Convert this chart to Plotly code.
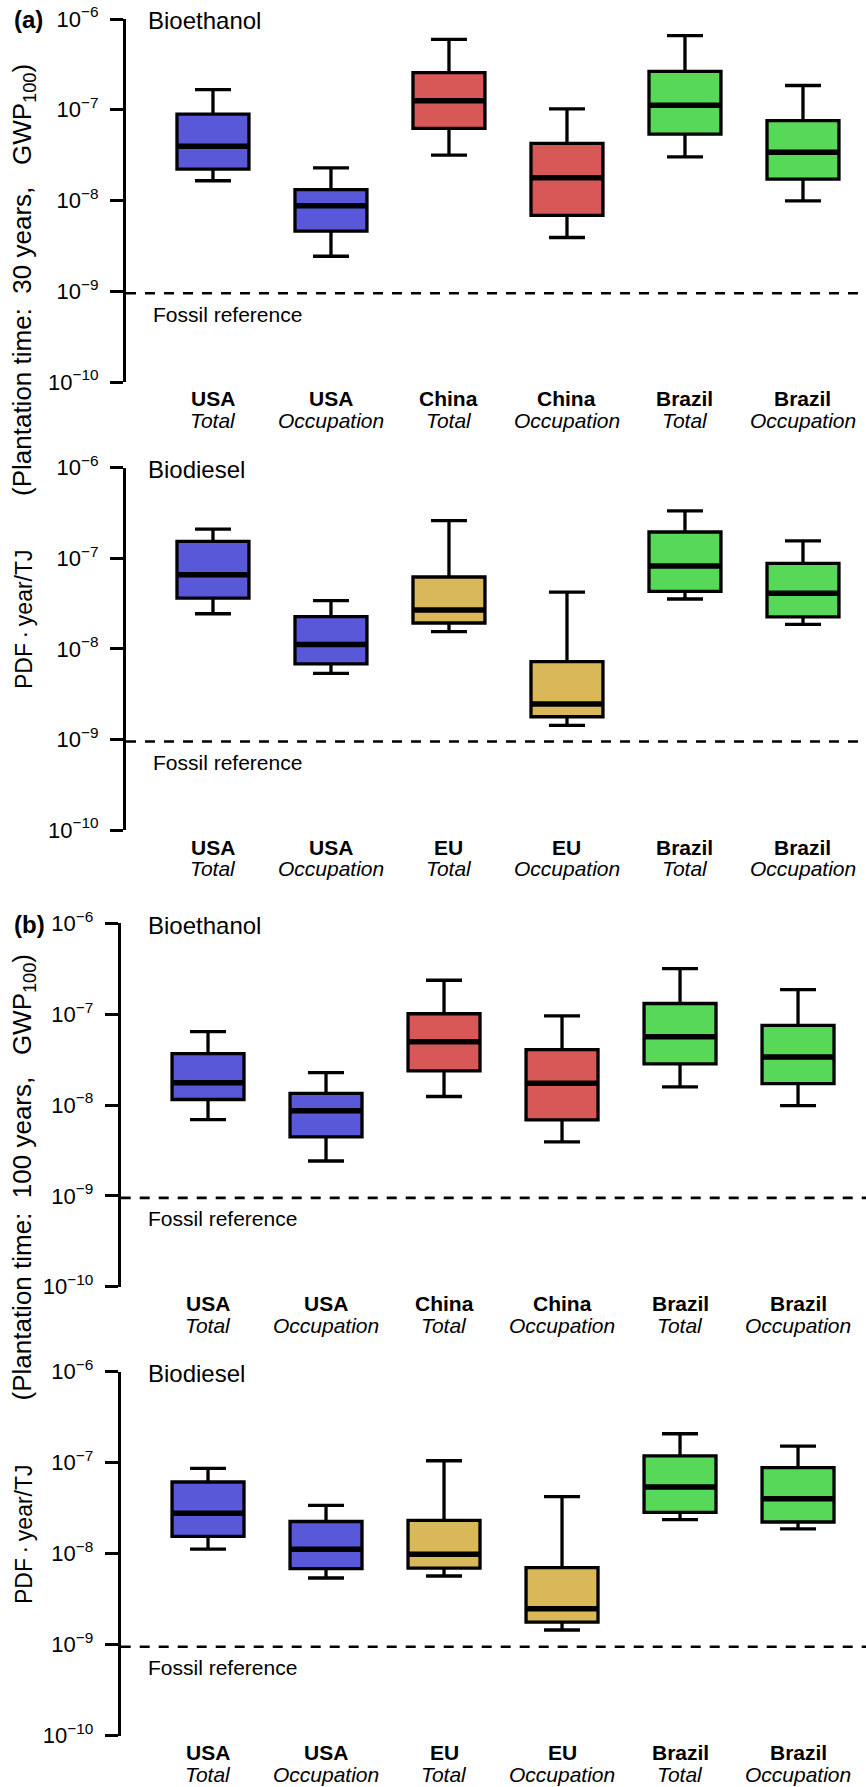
import numpy as np
import plotly.graph_objects as go

# ---------------- data ----------------
eth_countries = ["USA", "USA", "China", "China", "Brazil", "Brazil"]
dsl_countries = ["USA", "USA", "EU", "EU", "Brazil", "Brazil"]
kinds = ["Total", "Occupation", "Total", "Occupation", "Total", "Occupation"]
tick_vals = [1e-10, 1e-9, 1e-8, 1e-7, 1e-6]
tick_text = ["10<sup>\u221210</sup>", "10<sup>\u22129</sup>", "10<sup>\u22128</sup>",
             "10<sup>\u22127</sup>", "10<sup>\u22126</sup>"]
fossil_ref = 9.5e-10

# (a) 30 years - Bioethanol
a_eth_low = [1.65e-8, 2.43e-9, 3.16e-8, 3.91e-9, 3.03e-8, 9.9e-9]
a_eth_q1 = [2.22e-8, 4.59e-9, 6.22e-8, 6.84e-9, 5.39e-8, 1.72e-8]
a_eth_med = [3.97e-8, 8.73e-9, 1.26e-7, 1.78e-8, 1.12e-7, 3.41e-8]
a_eth_q3 = [8.96e-8, 1.32e-8, 2.56e-7, 4.25e-8, 2.65e-7, 7.57e-8]
a_eth_up = [1.67e-7, 2.29e-8, 5.97e-7, 1.02e-7, 6.55e-7, 1.85e-7]

# (a) 30 years - Biodiesel
a_dsl_low = [2.44e-8, 5.37e-9, 1.55e-8, 1.43e-9, 3.55e-8, 1.86e-8]
a_dsl_q1 = [3.64e-8, 6.81e-9, 1.93e-8, 1.78e-9, 4.31e-8, 2.25e-8]
a_dsl_med = [6.59e-8, 1.12e-8, 2.69e-8, 2.46e-9, 8.21e-8, 4.10e-8]
a_dsl_q3 = [1.54e-7, 2.27e-8, 6.21e-8, 7.21e-9, 1.95e-7, 8.79e-8]
a_dsl_up = [2.10e-7, 3.40e-8, 2.60e-7, 4.24e-8, 3.33e-7, 1.56e-7]

# (b) 100 years - Bioethanol
b_eth_low = [6.9e-9, 2.42e-9, 1.24e-8, 3.92e-9, 1.58e-8, 9.84e-9]
b_eth_q1 = [1.15e-8, 4.45e-9, 2.37e-8, 6.85e-9, 2.83e-8, 1.72e-8]
b_eth_med = [1.76e-8, 8.67e-9, 4.98e-8, 1.73e-8, 5.65e-8, 3.38e-8]
b_eth_q3 = [3.67e-8, 1.34e-8, 1.01e-7, 4.07e-8, 1.31e-7, 7.53e-8]
b_eth_up = [6.41e-8, 2.27e-8, 2.36e-7, 9.55e-8, 3.17e-7, 1.86e-7]

# (b) 100 years - Biodiesel
b_dsl_low = [1.12e-8, 5.41e-9, 5.69e-9, 1.45e-9, 2.37e-8, 1.87e-8]
b_dsl_q1 = [1.55e-8, 6.85e-9, 6.95e-9, 1.77e-9, 2.84e-8, 2.23e-8]
b_dsl_med = [2.78e-8, 1.12e-8, 9.84e-9, 2.49e-9, 5.41e-8, 4.02e-8]
b_dsl_q3 = [6.14e-8, 2.26e-8, 2.32e-8, 7.02e-9, 1.19e-7, 8.81e-8]
b_dsl_up = [8.67e-8, 3.40e-8, 1.05e-7, 4.23e-8, 2.08e-7, 1.52e-7]

# ---------------- style ----------------
BLUE, RED, GREEN, GOLD = "#5858D8", "#D85858", "#58D858", "#D8B858"
eth_colors = [BLUE, BLUE, RED, RED, GREEN, GREEN]
dsl_colors = [BLUE, BLUE, GOLD, GOLD, GREEN, GREEN]
FONT = "Liberation Sans, Arimo, Arial, Helvetica, sans-serif"
W, H = 866, 1787
BOX_W = 0.61


def py(p):
    return 1 - p / H


def fnt(size, **kw):
    d = dict(size=size, family=FONT, color="black")
    d.update(kw)
    return d


panels = [
    dict(top=19, bottom=382, left=126, xr=[0.263, 6.534], title="Bioethanol", flx=150.7,
         countries=eth_countries, colors=eth_colors,
         d=(a_eth_low, a_eth_q1, a_eth_med, a_eth_q3, a_eth_up)),
    dict(top=467.7, bottom=830, left=126, xr=[0.263, 6.534], title="Biodiesel", flx=150.7,
         countries=dsl_countries, colors=dsl_colors,
         d=(a_dsl_low, a_dsl_q1, a_dsl_med, a_dsl_q3, a_dsl_up)),
    dict(top=923.3, bottom=1286.7, left=120.7, xr=[0.26, 6.576], title="Bioethanol", flx=145.7,
         countries=eth_countries, colors=eth_colors,
         d=(b_eth_low, b_eth_q1, b_eth_med, b_eth_q3, b_eth_up)),
    dict(top=1371.7, bottom=1735.7, left=120.7, xr=[0.26, 6.576], title="Biodiesel", flx=145.7,
         countries=dsl_countries, colors=dsl_colors,
         d=(b_dsl_low, b_dsl_q1, b_dsl_med, b_dsl_q3, b_dsl_up)),
]

fig = go.Figure()
layout = dict(width=W, height=H, margin=dict(l=0, r=0, t=0, b=0, autoexpand=False),
              paper_bgcolor="white", plot_bgcolor="white", showlegend=False,
              font=dict(family=FONT, color="black"))
annotations = []


def txt(**kw):
    base = dict(showarrow=False, xref="paper", yref="paper")
    base.update(kw)
    annotations.append(base)


for i, p in enumerate(panels, start=1):
    sfx = "" if i == 1 else str(i)
    xa, ya = "x" + sfx, "y" + sfx
    low, q1, med, q3, up = p["d"]
    layout["xaxis" + sfx] = dict(domain=[p["left"] / W, 1], range=p["xr"], visible=False,
                                 anchor=ya, fixedrange=True)
    layout["yaxis" + sfx] = dict(domain=[py(p["bottom"]), py(p["top"])], anchor=xa,
                                 type="log", range=[-10, -6], showgrid=False, zeroline=False,
                                 showline=True, linewidth=3, linecolor="black",
                                 ticks="outside", ticklen=13, tickwidth=3, tickcolor="black",
                                 tickvals=tick_vals, ticktext=tick_text, ticklabelstandoff=7,
                                 tickfont=fnt(22), fixedrange=True)
    # fossil reference dashed line
    fig.add_trace(go.Scatter(x=p["xr"], y=[fossil_ref, fossil_ref], mode="lines",
                             line=dict(color="black", width=2.6, dash="10px,9px"),
                             xaxis=xa, yaxis=ya, hoverinfo="skip", cliponaxis=False))
    for j in range(6):
        pos = j + 1
        fig.add_trace(go.Box(x=[pos], q1=[q1[j]], median=[med[j]], q3=[q3[j]],
                             lowerfence=[low[j]], upperfence=[up[j]],
                             fillcolor=p["colors"][j], line=dict(color="black", width=3.3),
                             width=BOX_W, whiskerwidth=0.5, boxpoints=False,
                             xaxis=xa, yaxis=ya, hoverinfo="skip"))
        fig.add_trace(go.Scatter(x=[pos - BOX_W / 2, pos + BOX_W / 2], y=[med[j], med[j]],
                                 mode="lines", line=dict(color="black", width=5.5),
                                 xaxis=xa, yaxis=ya, hoverinfo="skip"))
        txt(x=pos, xref=xa, y=py(p["bottom"] + 17), text=p["countries"][j],
            xanchor="center", yanchor="middle", font=fnt(21, weight="bold"))
        txt(x=pos, xref=xa, y=py(p["bottom"] + 38.5), text=kinds[j],
            xanchor="center", yanchor="middle", font=fnt(21, style="italic"))
    fy = p["top"] + (-6 - np.log10(fossil_ref)) * (p["bottom"] - p["top"]) / 4
    txt(x=p["flx"] / W, y=py(fy + 20.8), text="Fossil reference", xanchor="left",
        yanchor="middle", font=fnt(21))
    txt(x=146 / W, y=py(p["top"] + 2), text=p["title"], xanchor="left",
        yanchor="middle", font=fnt(24))

# panel letters
txt(x=12 / W, y=py(19), text="(a)", xanchor="left", yanchor="middle",
    font=fnt(24, weight="bold"))
txt(x=12 / W, y=py(924), text="(b)", xanchor="left", yanchor="middle",
    font=fnt(24, weight="bold"))

# y-axis titles (two parts each)
for top_px, bot_px, yrs in [(62, 691, "30"), (952, 1606, "100")]:
    txt(x=24 / W, y=py(bot_px), textangle=-90, text="PDF\u2009\u00b7\u2009year/TJ",
        xanchor="center", yanchor="bottom", font=fnt(23))
    txt(x=23 / W, y=py(top_px), textangle=-90,
        text=f"(Plantation time:\u00a0 {yrs} years,\u00a0\u00a0 GWP<sub>100</sub>)",
        xanchor="center", yanchor="top", font=fnt(26))

layout["annotations"] = annotations
fig.update_layout(**layout)
fig.write_html("out.html", config={"displayModeBar": False},
               post_script="document.body.style.margin='0';document.body.style.overflow='hidden';")
